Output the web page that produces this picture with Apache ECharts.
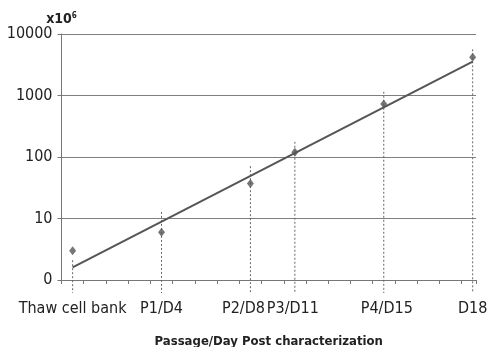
<!DOCTYPE html>
<html>
<head>
<meta charset="utf-8">
<script src="https://cdn.jsdelivr.net/npm/echarts@6/dist/echarts.min.js"></script>
<style>
  html, body { margin: 0; padding: 0; background: #fff; }
  #chart { width: 487px; height: 347px; }
</style>
</head>
<body>
<div id="chart"></div>
<script>
// Cell expansion: cumulative cells (x10^6) per passage, log scale
const categories = ['Thaw cell bank', 'P1/D4', 'P2/D8', 'P3/D11', 'P4/D15', 'D18'];
const dayPos = [0.5, 4.5, 8.5, 10.5, 14.5, 18.5];
const cellCounts = [3.0, 6.0, 37, 119, 730, 4180];
const rangeTop = [2.1, 12.8, 71, 177, 1150, 5640];
const trendX = [0.5, 18.5];
const trendY = [1.6, 3550];
const yTickValues = [1, 10, 100, 1000, 10000];
const yTickLabels = ['0', '10', '100', '1000', '10000'];

const FONT = "'Liberation Sans Narrow', 'DejaVu Sans Condensed', 'Roboto Condensed', 'Liberation Sans', sans-serif";
const TEXT = '#222';

// nudges so neighbouring day labels don't collide (px, + = right)
const LABEL_NUDGE = { 'P2/D8': -7, 'P3/D11': -2, 'P4/D15': 3 };

function nudgedRich() {
  const rich = {};
  Object.keys(LABEL_NUDGE).forEach((k, i) => {
    const d = LABEL_NUDGE[k];
    rich['n' + i] = {
      fontSize: 16, color: TEXT, fontFamily: FONT,
      padding: d < 0 ? [0, -2 * d, 0, 0] : [0, 0, 0, 2 * d]
    };
  });
  return rich;
}

const chart = echarts.init(document.getElementById('chart'));

chart.setOption({
  animation: false,
  backgroundColor: '#fff',
  textStyle: { fontFamily: FONT },
  grid: { left: 61.5, right: 11, top: 34, bottom: 67, outerBoundsMode: 'none', containLabel: false },
  xAxis: {
    type: 'value',
    min: 0,
    max: 18.65,
    interval: 1,
    name: 'Passage/Day Post characterization',
    nameLocation: 'middle',
    nameGap: 55,
    nameTextStyle: { fontFamily: FONT, fontWeight: 'bold', fontSize: 13, color: TEXT },
    axisLine: { lineStyle: { color: '#777', width: 1 } },
    axisTick: { show: true, length: 4, lineStyle: { color: '#777' } },
    splitLine: { show: false },
    axisLabel: {
      customValues: dayPos,
      margin: 21,
      fontSize: 16,
      color: TEXT,
      fontFamily: FONT,
      rich: nudgedRich(),
      formatter: function (v) {
        const i = dayPos.indexOf(v);
        if (i < 0) return '';
        const name = categories[i];
        const k = Object.keys(LABEL_NUDGE).indexOf(name);
        return k >= 0 ? '{n' + k + '|' + name + '}' : name;
      }
    }
  },
  yAxis: {
    type: 'log',
    logBase: 10,
    min: 1,
    max: 10000,
    name: '{a|x10}{s|6}',
    nameLocation: 'end',
    nameGap: 7,
    nameTextStyle: {
      rich: {
        a: { fontFamily: FONT, fontWeight: 'bold', fontSize: 14, color: TEXT },
        s: { fontFamily: FONT, fontWeight: 'bold', fontSize: 8, color: TEXT, verticalAlign: 'top', padding: [0, 0, 6, 0] }
      }
    },
    axisLine: { show: true, lineStyle: { color: '#777', width: 1 } },
    axisTick: { show: true, length: 4, lineStyle: { color: '#777' } },
    splitLine: { show: true, lineStyle: { color: '#7e7e7e', width: 1 } },
    axisLabel: {
      margin: 9,
      fontSize: 16,
      color: TEXT,
      fontFamily: FONT,
      formatter: function (v) {
        const i = yTickValues.indexOf(Math.round(v));
        return i >= 0 ? yTickLabels[i] : '';
      }
    }
  },
  series: [
    {
      // dotted drop lines running from each range top down past the axis
      type: 'custom',
      z: 1,
      silent: true,
      clip: false,
      data: dayPos.map((x, i) => [x, rangeTop[i]]),
      renderItem: function (params, api) {
        const top = api.coord([api.value(0), api.value(1)]);
        const base = api.coord([api.value(0), 1]);
        return {
          type: 'line',
          shape: { x1: top[0], y1: top[1], x2: base[0], y2: base[1] + 13 },
          style: { stroke: '#666', lineWidth: 1, lineDash: [2, 2] }
        };
      }
    },
    {
      // exponential trend line
      type: 'line',
      z: 3,
      data: trendX.map((x, i) => [x, trendY[i]]),
      symbol: 'none',
      lineStyle: { color: '#555', width: 2 }
    },
    {
      type: 'scatter',
      z: 4,
      data: dayPos.map((x, i) => [x, cellCounts[i]]),
      symbol: 'diamond',
      symbolSize: [7, 9],
      itemStyle: { color: '#555' }
    }
  ]
});
</script>
</body>
</html>
